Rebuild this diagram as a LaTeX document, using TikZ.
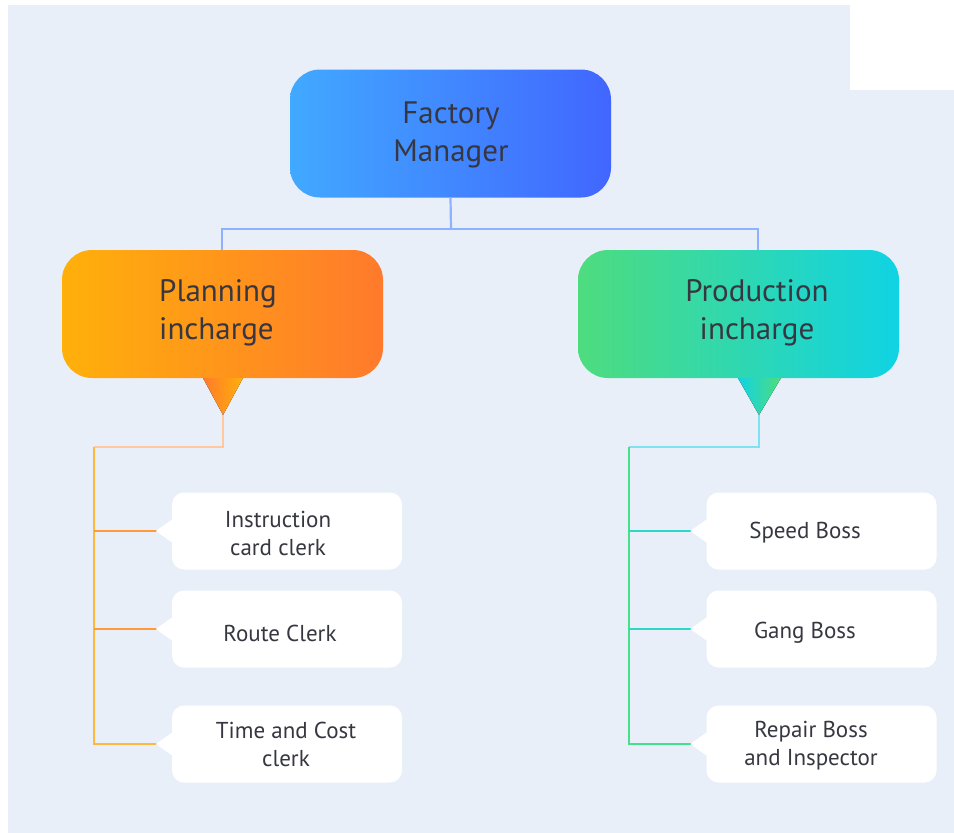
\documentclass[tikz,border=0pt]{standalone}
\usepackage{fontspec}
\setmainfont{PT Sans}
\definecolor{bg}{HTML}{E9EFF9}
\definecolor{txt}{HTML}{363740}
\definecolor{fmL}{HTML}{41A9FF}
\definecolor{fmR}{HTML}{4166FF}
\definecolor{plL}{HTML}{FFB00A}
\definecolor{plR}{HTML}{FF7A2C}
\definecolor{prL}{HTML}{4EDC7E}
\definecolor{prR}{HTML}{10D3E4}
\definecolor{topline}{HTML}{8EB2FF}
\definecolor{plline}{HTML}{FFB83E}
\definecolor{plbranch}{HTML}{FF9A3A}
\definecolor{plstem}{HTML}{FFC8A0}
\definecolor{prline}{HTML}{45E08A}
\definecolor{prbranch}{HTML}{2ED8C8}
\definecolor{prstem}{HTML}{7FE2F0}
\begin{document}
\begin{tikzpicture}[x=1pt,y=-1pt,
  bigbox/.style={rounded corners=30pt, minimum width=321pt, minimum height=128pt, inner sep=0pt},
  leaf/.style={fill=white, rounded corners=12pt, minimum width=230pt, minimum height=77pt, inner sep=0pt},
  notch/.style={fill=white},
  bigtxt/.style={font=\fontsize{31}{38}\selectfont, text=txt, inner sep=0pt},
  leaftxt/.style={font=\fontsize{23}{28}\selectfont, text=txt, align=center, inner sep=0pt},
  conn/.style={line width=2.2pt},
]
\useasboundingbox (0,0) rectangle (954,833);
\fill[white] (0,0) rectangle (954,833);
\fill[bg] (8,5) rectangle (954,833);
\fill[white] (850,5) rectangle (954,90);

% main boxes
\node[bigbox, left color=fmL, right color=fmR] (fm) at (450.5,133.5) {};
\node[bigbox, left color=plL, right color=plR] (pl) at (222.5,314) {};
\node[bigbox, left color=prL, right color=prR] (pr) at (738.5,314) {};

\node[bigtxt, align=center] (fmt) at (451,135) {Factory\\Manager};
\node[bigtxt, align=left] (plt) at (218,313) {Planning\\incharge};
\node[bigtxt, align=center] (prt) at (757,313) {Production\\incharge};

% top connector
\coordinate (tj) at (451,229);
\coordinate (pltop) at (222,250);
\coordinate (prtop) at (758,250);
\draw[conn, topline] (fm.south) -- (tj);
\draw[conn, topline] (tj) -| (pltop);
\draw[conn, topline] (tj) -| (prtop);

% funnels
\coordinate (pa) at (223,415);
\coordinate (ra) at (759,415);
\fill[left color=plR, right color=plL] (203,378) -- (243,378) -- (pa) -- cycle;
\fill[left color=prR, right color=prL] (738,378) -- (781,378) -- (ra) -- cycle;

% leaves
\node[leaf] (l1) at (287,531) {};
\node[leaf] (l2) at (287,629) {};
\node[leaf] (l3) at (287,744) {};
\node[leaf] (r1) at (821.5,531) {};
\node[leaf] (r2) at (821.5,629) {};
\node[leaf] (r3) at (821.5,744) {};

% connectors
\coordinate (lj) at (94,447);
\coordinate (rj) at (629,447);
\draw[conn, plstem] (pa) |- (lj);
\draw[conn, plline] (lj) |- (l3.west);
\draw[conn, plbranch] (94,531) -- (l1.west);
\draw[conn, plbranch] (94,629) -- (l2.west);
\draw[conn, plline] (94,744) -- (l3.west);
\draw[conn, prstem] (ra) |- (rj);
\draw[conn, prline] (rj) |- (r3.west);
\draw[conn, prbranch] (629,531) -- (r1.west);
\draw[conn, prbranch] (629,629) -- (r2.west);
\draw[conn, prline] (629,744) -- (r3.west);

% notches
\foreach \n in {l1,l2,l3,r1,r2,r3}{
  \fill[notch] (\n.west) ++(1,-12) -- ++(-17,12) -- ++(17,12) -- cycle;
}

% leaf texts
\node[leaftxt] (l1t) at (278,533) {Instruction\\card clerk};
\node[leaftxt] (l2t) at (280,633) {Route Clerk};
\node[leaftxt] (l3t) at (286,744) {Time and Cost\\clerk};
\node[leaftxt] (r1t) at (805,533) {Speed Boss};
\node[leaftxt] (r2t) at (805,633) {Gang Boss};
\node[leaftxt] (r3t) at (811,746) {Repair Boss\\and Inspector};
\end{tikzpicture}
\end{document}
